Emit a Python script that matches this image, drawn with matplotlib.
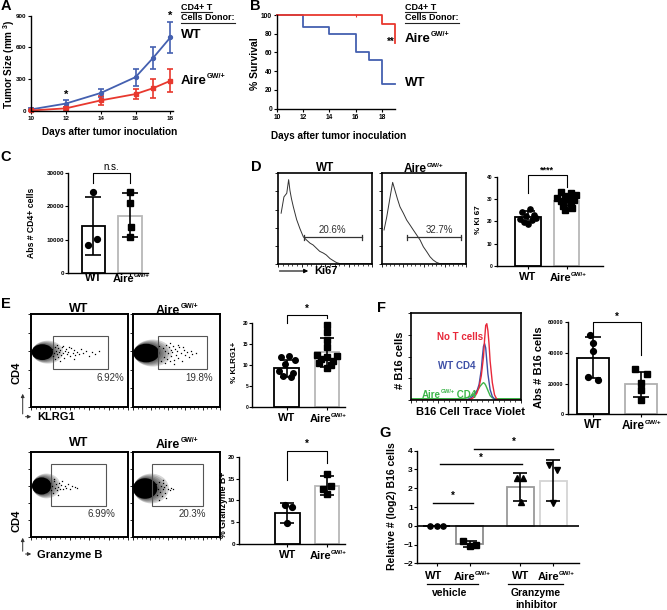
import matplotlib
matplotlib.use('Agg')
import matplotlib.pyplot as plt
from matplotlib.patches import Ellipse, Rectangle, FancyArrowPatch
from matplotlib.lines import Line2D

plt.rcParams['font.family'] = ['Liberation Sans', 'DejaVu Sans']
plt.rcParams['mathtext.fontset'] = 'custom'
plt.rcParams['mathtext.rm'] = 'Liberation Sans'
plt.rcParams['mathtext.it'] = 'Liberation Sans:italic'
plt.rcParams['mathtext.bf'] = 'Liberation Sans:bold'
plt.rcParams['mathtext.sf'] = 'Liberation Sans'
plt.rcParams['mathtext.default'] = 'bf'
plt.rcParams['axes.linewidth'] = 1.0

BLUE = '#4460b0'
RED = '#e8382e'

# ---------------- data ----------------
# A: tumor growth
days_a = [10, 12, 14, 16, 17, 18]
wt_tumor = [15, 70, 170, 320, 500, 695]
wt_tumor_err = [10, 30, 40, 80, 100, 150]
aire_tumor = [5, 25, 100, 160, 215, 285]
aire_tumor_err = [5, 12, 45, 50, 90, 110]

# B: survival
wt_surv_days = [10, 12, 14, 16, 17, 18, 19]
wt_surv = [100, 87, 80, 60, 52, 26, 26]
aire_surv_days = [10, 18, 19]
aire_surv = [100, 90, 70]

# C: Abs # CD4+ cells
c_bar = [14100, 17100]
c_lo = [5300, 10900]
c_hi = [22900, 24000]
c_wt_pts = [24300, 10100, 8400]
c_wt_off = [0.0, 0.1, -0.14]
c_aire_pts = [24500, 20900, 13700, 10700]
c_aire_off = [0.0, 0.0, 0.02, 0.0]

# D: Ki67 histograms (x, y in % of plot box)
ki_wt_x = [3, 6, 9, 11, 12.4, 14, 16, 19.5, 23, 26.6, 30, 33.7, 37, 41, 44, 48, 51, 55, 58.5, 62, 65.6, 100]
ki_wt_y = [56, 74, 78, 93, 81, 72, 63, 49, 39, 30, 26.5, 23, 21, 17, 14, 12, 10, 6, 3.7, 1.5, 0.4, 0.4]
ki_aire_x = [2.8, 6, 10, 13, 15.8, 18.6, 21.7, 25.7, 29.6, 33.6, 37.5, 41.5, 45.5, 49.4, 53.4, 57.3, 61, 65, 69, 100]
ki_aire_y = [37.5, 52, 74, 90, 81, 72, 63, 56, 48.5, 43, 37.5, 32, 26.5, 19, 13.6, 8, 4.4, 1.8, 0.4, 0.4]
ki_pct = ['20.6%', '32.7%']
ki_bar = [22.0, 29.3]
ki_lo = [19.8, 27.0]
ki_hi = [24.5, 32.0]
ki_wt_pts = [25.5, 24.0, 23.0, 22.5, 21.5, 21.0, 20.5, 19.5, 19.0]
ki_wt_off = [0.05, -0.15, 0.15, -0.05, 0.2, -0.2, 0.1, -0.1, 0.0]
ki_aire_pts = [33.0, 32.5, 32.0, 31.5, 31.0, 30.5, 30.0, 29.5, 29.0, 28.0, 27.0, 26.0, 25.0]
ki_aire_off = [-0.15, 0.1, 0.25, -0.05, 0.15, -0.25, 0.0, 0.2, -0.15, 0.1, -0.1, 0.15, -0.05]

# E: flow dot plots (core blob + tail dots, in % of plot box)
blob_cx = [12, 15, 11, 14]
blob_cy = [59, 58, 60, 57]
blob_w = [22, 30, 20, 28]
blob_h = [17, 20, 20, 24]
e1_tail_x = [22, 23, 24, 25, 25, 26, 27, 28, 28, 29, 30, 31, 32, 33, 34, 35, 36, 37, 38, 40, 41, 43, 45, 46, 48, 50, 52, 54, 57, 60, 63, 66, 70, 30, 27, 33, 39, 44]
e1_tail_y = [62, 55, 58, 65, 52, 60, 57, 63, 54, 59, 61, 56, 64, 58, 53, 60, 62, 57, 59, 55, 63, 58, 61, 56, 59, 57, 62, 58, 60, 55, 59, 57, 60, 50, 67, 66, 64, 52]
e2_tail_x = [30, 32, 34, 35, 36, 38, 39, 40, 41, 42, 43, 44, 45, 46, 47, 48, 49, 50, 52, 53, 55, 56, 58, 60, 62, 64, 66, 68, 72, 37, 42, 47, 51, 57]
e2_tail_y = [66, 50, 63, 54, 60, 67, 52, 58, 64, 49, 61, 55, 59, 66, 51, 62, 56, 60, 53, 64, 58, 50, 61, 56, 59, 54, 60, 57, 58, 47, 69, 46, 67, 64]
e3_tail_x = [20, 21, 22, 23, 24, 25, 26, 27, 28, 29, 30, 31, 33, 35, 36, 38, 40, 42, 45, 47, 24, 28, 32]
e3_tail_y = [63, 55, 60, 52, 66, 58, 62, 55, 59, 64, 57, 61, 56, 60, 58, 62, 57, 60, 59, 58, 68, 50, 66]
e4_tail_x = [27, 28, 29, 30, 31, 32, 33, 34, 35, 36, 37, 38, 40, 42, 44, 46, 30, 34, 38]
e4_tail_y = [62, 50, 57, 65, 53, 60, 48, 63, 56, 59, 52, 61, 57, 55, 58, 57, 44, 67, 46]
gate_x0 = [23, 29, 20.6, 22]
gate_x1 = [79.4, 84.6, 77, 80.8]
gate_y0 = [40.9, 40.9, 36.6, 36.6]
gate_y1 = [76.3, 76.3, 85.3, 85.3]
gate_pct = ['6.92%', '19.8%', '6.99%', '20.3%']

klrg_bar = [9.2, 13.0]
klrg_lo = [7.2, 9.5]
klrg_hi = [11.2, 16.5]
klrg_wt_pts = [12.2, 11.8, 11.2, 10.2, 8.5, 8.0, 7.4, 7.2]
klrg_wt_off = [0.05, -0.15, 0.2, -0.05, -0.2, 0.15, -0.1, 0.1]
klrg_aire_pts = [19.5, 18.0, 16.0, 14.3, 12.5, 12.2, 12.0, 11.5, 11.0, 10.5, 10.0, 9.3]
klrg_aire_off = [0.0, 0.0, 0.0, 0.0, -0.25, 0.25, 0.0, -0.15, 0.15, -0.2, 0.1, 0.0]

gzm_bar = [7.1, 13.3]
gzm_lo = [4.9, 11.2]
gzm_hi = [9.3, 15.5]
gzm_wt_pts = [9.0, 8.4, 4.9]
gzm_wt_off = [-0.05, 0.12, 0.0]
gzm_aire_pts = [16.0, 13.4, 12.6, 11.5]
gzm_aire_off = [0.0, 0.1, -0.1, 0.0]

# F: B16 cell trace violet histograms
f_red_x = [0, 52, 56, 58, 60, 62, 64, 66, 67, 68, 69, 70, 71, 72, 74, 76, 78, 80, 100]
f_red_y = [0, 0, 2, 4, 8, 15, 28, 50, 70, 86, 88, 80, 65, 45, 20, 6, 1, 0, 0]
f_blue_x = [0, 50, 54, 57, 60, 62, 64, 65, 66, 67, 68, 69, 70, 72, 74, 76, 78, 100]
f_blue_y = [0, 0, 2, 5, 10, 18, 35, 50, 62, 65, 60, 45, 30, 12, 4, 1, 0, 0]
f_green_x = [0, 45, 50, 54, 58, 61, 63, 65, 66, 67, 68, 70, 72, 74, 76, 80, 100]
f_green_y = [1.5, 1.5, 2, 4, 8, 12, 16, 19, 20, 19, 17, 11, 5, 2.5, 1.5, 1.5, 1.5]
b16_bar = [37000, 19600]
b16_lo = [23900, 11500]
b16_hi = [50600, 27800]
b16_wt_pts = [51700, 46300, 41300, 24100, 22400]
b16_wt_off = [-0.05, 0.0, 0.0, -0.1, 0.1]
b16_aire_pts = [29300, 26300, 20200, 15800, 9300]
b16_aire_off = [-0.12, 0.12, 0.0, 0.0, 0.0]

# G: relative B16 (log2)
g_pos = [0, 1, 2.55, 3.55]
g_bar = [0.0, -0.95, 2.05, 2.4]
g_lo = [0.0, -1.15, 1.34, 1.34]
g_hi = [0.0, -0.8, 2.83, 3.5]
g_pts = [[0, 0, 0], [-0.79, -1.08, -1.02], [2.53, 2.53, 1.29], [3.24, 2.97, 1.23]]
g_off = [[-0.2, 0.0, 0.2], [-0.2, 0.02, 0.2], [-0.11, 0.09, 0.02], [-0.12, 0.12, 0.0]]
g_markers = ['o', 's', '^', 'v']
g_edge = ['black', '#8c8c8c', '#9a9a9a', '#d4d4d4']

# ---------------- figure ----------------
W, H = 667, 610
fig = plt.figure(figsize=(W / 100, H / 100), dpi=100)
REND = fig.canvas.get_renderer()


def pax(l, t, r, b):
    return fig.add_axes([l / W, 1 - b / H, (r - l) / W, (b - t) / H])


def ft(x, y, s, **kw):
    kw.setdefault('ha', 'center')
    kw.setdefault('va', 'center')
    return fig.text(x / W, 1 - y / H, s, **kw)


def fline(xs, ys, **kw):
    fig.add_artist(Line2D([v / W for v in xs], [1 - v / H for v in ys],
                          transform=fig.transFigure, **kw))


def rich(x, y, parts, size, ha='center', color='black'):
    """parts: list of (string, is_superscript); y = vertical centre of base text"""
    texts = []
    for s, sup in parts:
        fs = size * 0.55 if sup else size
        t = fig.text(0, 0, s, fontsize=fs, fontweight='bold', color=color,
                     ha='left', va='baseline')
        texts.append((t, sup, t.get_window_extent(REND).width))
    total = sum(w for _, _, w in texts)
    x0 = x - total / 2 if ha == 'center' else x
    base = y + 0.36 * size * 1.389
    for t, sup, w in texts:
        yy = base - 0.42 * size * 1.389 if sup else base
        t.set_position((x0 / W, 1 - yy / H))
        x0 += w


def aire(x, y, size, ha='center', color='black', extra=None):
    parts = [('Aire', False), ('GW/+', True)]
    if extra:
        parts.append((extra, False))
    rich(x, y, parts, size, ha=ha, color=color)


def underlined(x, y, s, size):
    t = ft(x, y, s, ha='left', fontsize=size, fontweight='bold')
    bb = t.get_window_extent(renderer=REND)
    fline([bb.x0, bb.x1], [H - bb.y0 + 0.5, H - bb.y0 + 0.5], color='#222', lw=0.8)


def bar_panel(ax, pos, vals, lo, hi, pts_list, off_list, markers, edges, width,
              capsize, ms, tick_fs):
    for i, p in enumerate(pos):
        ax.bar(p, vals[i], width=width, facecolor='white', edgecolor=edges[i],
               linewidth=1.3, zorder=1)
    for i, p in enumerate(pos):
        ax.plot([p + o for o in off_list[i]], pts_list[i], linestyle='none',
                marker=markers[i], color='black', ms=ms, zorder=3, clip_on=False)
        ax.errorbar([p], [vals[i]], yerr=[[vals[i] - lo[i]], [hi[i] - vals[i]]],
                    fmt='none', ecolor='black', elinewidth=1.2, capsize=capsize,
                    capthick=1.2, zorder=4)
    for s in ['top', 'right']:
        ax.spines[s].set_visible(False)
    ax.tick_params(axis='both', direction='out', length=2, width=0.8,
                   labelsize=tick_fs, pad=1)
    ax.set_xticks(pos)
    ax.set_xticklabels([])


def bold_ticks(ax):
    for lab in ax.get_xticklabels() + ax.get_yticklabels():
        lab.set_fontweight('bold')


def bracket(ax, x0, x1, ytop, yl, yr, label, fs, dy, lw=0.8):
    ax.plot([x0, x0, x1, x1], [yl, ytop, ytop, yr], color='black', lw=lw, clip_on=False)
    ax.text((x0 + x1) / 2, ytop + dy, label, ha='center', va='bottom', fontsize=fs,
            fontweight='bold', clip_on=False)


# ---- panel letters ----
for (lx, ly, lt) in [(6, 6, 'A'), (255, 6, 'B'), (6, 157, 'C'), (256, 167, 'D'),
                     (6, 304, 'E'), (382, 308, 'F'), (385, 433, 'G')]:
    ft(lx, ly, lt, fontsize=10.5, fontweight='bold')

# ---- A ----
axA = pax(31, 15.7, 173, 111)
axA.errorbar(days_a, wt_tumor, yerr=wt_tumor_err, color=BLUE, marker='o', ms=2.8,
             lw=1.3, elinewidth=1.2, capsize=2.2, capthick=1.2, clip_on=False)
axA.errorbar(days_a, aire_tumor, yerr=aire_tumor_err, color=RED, marker='s', ms=2.6,
             lw=1.3, elinewidth=1.2, capsize=2.2, capthick=1.2, clip_on=False)
axA.set_xlim(10, 18.15)
axA.set_ylim(0, 900)
axA.set_xticks([10, 12, 14, 16, 18])
axA.set_yticks([0, 300, 600, 900])
for s in ['top', 'right']:
    axA.spines[s].set_visible(False)
axA.tick_params(direction='out', length=2, width=0.8, labelsize=4.5, pad=1.5)
bold_ticks(axA)
axA.text(12, 110, '*', ha='center', va='bottom', fontsize=8, fontweight='bold')
axA.text(18, 850, '*', ha='center', va='bottom', fontsize=8, fontweight='bold')
ft(9, 64, r'Tumor Size (mm $^{3}$)', rotation=90, fontsize=7.2, fontweight='bold')
ft(110, 132, 'Days after tumor inoculation', fontsize=7.2, fontweight='bold')
underlined(181, 7, 'CD4+ T', 6.5)
underlined(181, 17.5, 'Cells Donor:', 6.5)
ft(181, 35, 'WT', ha='left', fontsize=9.5, fontweight='bold')
aire(181, 79, 9.5, ha='left')

# ---- B ----
axB = pax(277, 15, 395, 108.7)
axB.step(wt_surv_days, wt_surv, where='post', color=BLUE, lw=1.3, clip_on=False)
axB.step(aire_surv_days, aire_surv, where='post', color=RED, lw=1.3, clip_on=False)
axB.plot([16], [100], marker='|', color=RED, ms=3, mew=0.8)
axB.set_xlim(10, 19)
axB.set_ylim(0, 100)
axB.set_xticks([10, 12, 14, 16, 18])
axB.set_yticks([0, 20, 40, 60, 80, 100])
for s in ['top', 'right']:
    axB.spines[s].set_visible(False)
axB.tick_params(direction='out', length=2, width=0.8, labelsize=4.8, pad=1.5)
bold_ticks(axB)
axB.text(19, 66, '**', ha='right', va='bottom', fontsize=7, fontweight='bold', clip_on=False)
ft(255, 64, '% Survival', rotation=90, fontsize=7.5, fontweight='bold')
ft(339, 136, 'Days after tumor inoculation', fontsize=7.2, fontweight='bold')
underlined(405, 7, 'CD4+ T', 6.5)
underlined(405, 17.5, 'Cells Donor:', 6.5)
aire(405, 37, 9.5, ha='left')
ft(405, 83, 'WT', ha='left', fontsize=9.5, fontweight='bold')

# ---- C ----
axC = pax(68.3, 173.3, 148, 272.7)
bar_panel(axC, [0, 1], c_bar, c_lo, c_hi, [c_wt_pts, c_aire_pts], [c_wt_off, c_aire_off],
          ['o', 's'], ['black', '#b8b8b8'], 0.635, 6, 4.2, 4.5)
axC.set_xlim(-0.68, 1.49)
axC.set_ylim(0, 30000)
axC.set_yticks([0, 10000, 20000, 30000])
bold_ticks(axC)
axC.plot([0, 0, 1, 1], [27000, 30000, 30000, 27000], color='black', lw=0.8, clip_on=False)
axC.text(0.5, 30300, 'n.s.', ha='center', va='bottom', fontsize=7)
ft(32, 223, 'Abs # CD4+ cells', rotation=90, fontsize=6.2, fontweight='bold')
ft(93.3, 278, 'WT', fontsize=8, fontweight='bold')
aire(131, 278, 8)


# ---- D histograms ----
def hist_axes(ax):
    ax.set_xlim(0, 100)
    ax.set_ylim(0, 100)
    ax.set_xticks([0, 25, 50, 75, 100])
    ax.set_xticks([5, 10, 15, 20, 30, 35, 40, 45, 55, 60, 65, 70, 80, 85, 90, 95], minor=True)
    ax.set_yticks([0, 20, 40, 60, 80, 100])
    ax.set_xticklabels([])
    ax.set_yticklabels([])
    ax.tick_params(direction='out', length=2, width=0.6)
    ax.tick_params(which='minor', direction='out', length=1.2, width=0.5)
    for s in ax.spines.values():
        s.set_linewidth(1.2)


d_boxes = [(278.3, 173.3, 372.3, 264), (381.7, 173.3, 466, 264)]
d_curves = [(ki_wt_x, ki_wt_y), (ki_aire_x, ki_aire_y)]
d_gate = [(27.3, 88.7, 58), (29.7, 93.7, 69)]
for i in range(2):
    ax = pax(*d_boxes[i])
    hist_axes(ax)
    ax.plot(d_curves[i][0], d_curves[i][1], color='#333333', lw=0.7)
    g0, g1, tx = d_gate[i]
    ax.plot([g0, g1], [29.4, 29.4], color='#333333', lw=0.9)
    ax.plot([g0, g0], [27, 32], color='#333333', lw=0.9)
    ax.plot([g1, g1], [27, 32], color='#333333', lw=0.9)
    ax.text(tx, 31.5, ki_pct[i], ha='center', va='bottom', fontsize=7, color='#333333')
ft(325, 168, 'WT', fontsize=8.5, fontweight='bold')
aire(424, 168, 8.5)
fig.add_artist(FancyArrowPatch((276.7 / W, 1 - 271 / H), (311 / W, 1 - 271 / H),
               transform=fig.transFigure, arrowstyle='-|>', mutation_scale=6, lw=0.8, color='black'))
ft(314, 271.5, 'Ki67', ha='left', fontsize=8, fontweight='bold')

# ---- D bar ----
axD = pax(496.7, 176.7, 603, 266)
bar_panel(axD, [0, 1], ki_bar, ki_lo, ki_hi, [ki_wt_pts, ki_aire_pts], [ki_wt_off, ki_aire_off],
          ['o', 's'], ['black', '#b8b8b8'], 0.65, 5, 3.8, 3.5)
axD.set_xlim(-0.81, 1.94)
axD.set_ylim(0, 40)
axD.set_yticks([0, 10, 20, 30, 40])
bold_ticks(axD)
bracket(axD, 0, 1, 40.8, 32.6, 35.5, '****', 6.5, 0.3)
ft(478, 220, '% Ki 67', rotation=90, fontsize=5.8, fontweight='bold')
ft(528, 277, 'WT', fontsize=8, fontweight='bold')
aire(568, 277, 8)

# ---- E flow plots ----
e_boxes = [(30.7, 314, 128, 407), (133.3, 314, 220, 407),
           (31, 451.7, 128, 537.3), (133, 451.7, 220, 537.3)]
e_tails = [(e1_tail_x, e1_tail_y), (e2_tail_x, e2_tail_y),
           (e3_tail_x, e3_tail_y), (e4_tail_x, e4_tail_y)]
e_pct_pos = [(96, 31), (92, 31), (86.6, 27), (84, 27)]
for i in range(4):
    ax = pax(*e_boxes[i])
    ax.set_xlim(0, 100)
    ax.set_ylim(0, 100)
    ax.set_xticks([0, 20, 40, 60, 80, 100])
    ax.set_xticks([5, 10, 15, 25, 30, 35, 45, 50, 55, 65, 70, 75, 85, 90, 95], minor=True)
    ax.set_yticks([0, 20, 40, 60, 80, 100])
    ax.set_xticklabels([])
    ax.set_yticklabels([])
    ax.tick_params(direction='out', length=2, width=0.6)
    ax.tick_params(which='minor', direction='out', length=1.2, width=0.5)
    for s in ax.spines.values():
        s.set_linewidth(1.4)
    for sc in [1.45, 1.35, 1.25, 1.16, 1.08]:
        ax.add_patch(Ellipse((blob_cx[i] + blob_w[i] * (sc - 1) * 0.55, blob_cy[i]),
                             blob_w[i] * sc, blob_h[i] * sc,
                             facecolor='black', alpha=0.16, edgecolor='none'))
    ax.add_patch(Ellipse((blob_cx[i], blob_cy[i]), blob_w[i], blob_h[i],
                         facecolor='black', edgecolor='none'))
    ax.plot(e_tails[i][0], e_tails[i][1], linestyle='none', marker='s', ms=0.9,
            mew=0, color='black')
    ax.add_patch(Rectangle((gate_x0[i], gate_y0[i]), gate_x1[i] - gate_x0[i],
                           gate_y1[i] - gate_y0[i], fill=False, edgecolor='#555555', lw=0.8))
    ax.text(e_pct_pos[i][0], e_pct_pos[i][1], gate_pct[i], ha='right', va='center',
            fontsize=7, color='#333333')
ft(79, 309, 'WT', fontsize=9, fontweight='bold')
aire(177, 309, 9)
ft(79, 443, 'WT', fontsize=9, fontweight='bold')
aire(177, 443, 9)
for (yc, yv, yh, lab) in [(373, 391, 416.7, 'KLRG1'), (521, 535, 554, 'Granzyme B')]:
    fig.add_artist(FancyArrowPatch((22.7 / W, 1 - yh / H), (22.7 / W, 1 - yv / H),
                   transform=fig.transFigure, arrowstyle='-|>', mutation_scale=5, lw=0.7, color='#333'))
    fig.add_artist(FancyArrowPatch((22.7 / W, 1 - yh / H), (34 / W, 1 - yh / H),
                   transform=fig.transFigure, arrowstyle='-|>', mutation_scale=5, lw=0.7, color='#333'))
    ft(17, yc, 'CD4', rotation=90, fontsize=8, fontweight='bold')
    ft(37, yh + 0.5, lab, ha='left', fontsize=8, fontweight='bold')

# ---- E bars ----
axE1 = pax(252.3, 323.3, 345, 406.7)
bar_panel(axE1, [0, 1], klrg_bar, klrg_lo, klrg_hi, [klrg_wt_pts, klrg_aire_pts],
          [klrg_wt_off, klrg_aire_off], ['o', 's'], ['black', '#b8b8b8'], 0.62, 5, 4.0, 3.5)
axE1.set_xlim(-0.86, 1.45)
axE1.set_ylim(0, 20)
axE1.set_yticks([0, 5, 10, 15, 20])
bold_ticks(axE1)
bracket(axE1, 0, 1, 22, 20, 21.3, '*', 7, 0.2)
ft(235, 362, '% KLRG1+', rotation=90, fontsize=5.8, fontweight='bold')
ft(286.7, 418, 'WT', fontsize=8, fontweight='bold')
aire(328, 418, 8)

axE2 = pax(239, 456.7, 345, 544)
bar_panel(axE2, [0, 1], gzm_bar, gzm_lo, gzm_hi, [gzm_wt_pts, gzm_aire_pts],
          [gzm_wt_off, gzm_aire_off], ['o', 's'], ['black', '#b8b8b8'], 0.62, 5, 4.2, 4.6)
axE2.set_xlim(-1.21, 1.45)
axE2.set_ylim(0, 20)
axE2.set_yticks([0, 5, 10, 15, 20])
bold_ticks(axE2)
bracket(axE2, 0, 1, 21.4, 14.7, 18.5, '*', 7, 0.3)
ft(223, 505, '% Granzyme B+', rotation=90, fontsize=6.3, fontweight='bold')
ft(287.3, 555, 'WT', fontsize=8, fontweight='bold')
aire(328, 555, 8)

# ---- F histogram ----
axF = pax(410.7, 313.3, 521, 400)
hist_axes(axF)
axF.set_yticks([0, 25, 50, 75, 100])
axF.plot(f_green_x, f_green_y, color='#3db54a', lw=1.0)
axF.plot(f_blue_x, f_blue_y, color='#3d4fa6', lw=1.0)
axF.plot(f_red_x, f_red_y, color='#e8283a', lw=1.0)
ft(460, 337, 'No T cells', fontsize=7, fontweight='bold', color='#e8283a')
ft(457, 366, 'WT CD4', fontsize=7, fontweight='bold', color='#3d4fa6')
aire(449, 394, 7, color='#3db54a', extra=' CD4')
ft(400, 360, '# B16 cells', rotation=90, fontsize=8, fontweight='bold')
ft(470, 412, 'B16 Cell Trace Violet', fontsize=8, fontweight='bold')

# ---- F bar ----
axF2 = pax(567.7, 322.3, 666.7, 414.3)
bar_panel(axF2, [0, 1], b16_bar, b16_lo, b16_hi, [b16_wt_pts, b16_aire_pts],
          [b16_wt_off, b16_aire_off], ['o', 's'], ['black', '#b0b0b0'], 0.66, 6, 4.2, 4)
axF2.set_xlim(-0.52, 1.53)
axF2.set_ylim(0, 60000)
axF2.set_yticks([0, 20000, 40000, 60000])
bold_ticks(axF2)
bracket(axF2, 0, 1, 60000, 52000, 38700, '*', 7, 400)
ft(539, 367, 'Abs # B16 cells', rotation=90, fontsize=8, fontweight='bold')
ft(592.7, 425, 'WT', fontsize=8.5, fontweight='bold')
aire(642, 425, 8.5)

# ---- G ----
axG = pax(417, 450.7, 579.3, 563.3)
bar_panel(axG, g_pos, g_bar, g_lo, g_hi, g_pts, g_off, g_markers, g_edge, 0.81, 5, 3.8, 6)
axG.set_xlim(-0.6, 4.34)
axG.set_ylim(-2, 4)
axG.set_yticks([-2, -1, 0, 1, 2, 3, 4])
bold_ticks(axG)
axG.axhline(0, color='black', lw=1.2, zorder=2)
for (x0, x1, yv) in [(-0.1, 1.11, 1.23), (0.1, 2.59, 3.28), (1.14, 3.53, 4.1)]:
    axG.plot([x0, x1], [yv, yv], color='black', lw=1.0, clip_on=False)
    axG.text((x0 + x1) / 2, yv + 0.08, '*', ha='center', va='bottom', fontsize=7,
             fontweight='bold', clip_on=False)
ft(392, 506, 'Relative # (log2) B16 cells', rotation=90, fontsize=7.5, fontweight='bold')
ft(434, 576, 'WT', fontsize=8, fontweight='bold')
aire(472, 576, 8)
ft(520.7, 576, 'WT', fontsize=8, fontweight='bold')
aire(556, 576, 8)
fline([427.3, 478.3], [584, 584], color='black', lw=0.9)
fline([508, 562.7], [584, 584], color='black', lw=0.9)
ft(450, 593.5, 'vehicle', fontsize=7.5, fontweight='bold')
ft(536, 593.5, 'Granzyme', fontsize=7.5, fontweight='bold')
ft(536, 605, 'inhibitor', fontsize=7.5, fontweight='bold')

fig.savefig('out.png', dpi=100)
